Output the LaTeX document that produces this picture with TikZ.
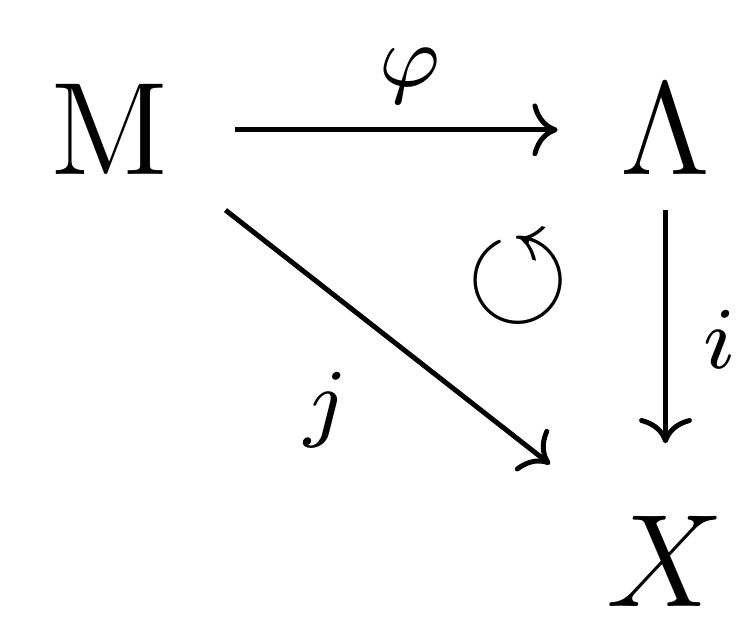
\documentclass[tikz,border=0pt]{standalone}
\usepackage{amssymb}
\usetikzlibrary{arrows.meta}
\begin{document}
\begin{tikzpicture}[x=1pt,y=1pt,lab/.style={inner sep=0pt,font=\fontsize{11.5pt}{14pt}\selectfont},
  sml/.style={inner sep=0pt,font=\fontsize{8.2pt}{10pt}\selectfont},
  arr/.style={line width=0.45pt,-{Computer Modern Rightarrow[length=2.3pt,width=4.8pt]}}]
\useasboundingbox (0,0) rectangle (68.55,-56.55);
\node[lab] (M) at (10,-11.8) {$\mathrm{M}$};
\node[lab] (L) at (60.5,-11.8) {$\Lambda$};
\node[lab] (X) at (60.5,-51) {$X$};
\coordinate (a1) at (21.4,-11.8);
\coordinate (a2) at (50.7,-11.8);
\coordinate (b1) at (60.5,-19.1);
\coordinate (b2) at (60.5,-40.3);
\coordinate (c1) at (20.5,-19.1);
\coordinate (c2) at (50,-42.2);
\draw[arr] (a1) -- (a2);
\draw[arr] (b1) -- (b2);
\draw[arr] (c1) -- (c2);
\node[sml] (phi) at (37.3,-6.9) {$\varphi$};
\node[sml] (ii) at (65.4,-30.9) {$i$};
\node[sml] (jj) at (29.6,-37.3) {$j$};
\node[lab,scale=1.05] (rot) at (47.1,-25.5) {$\circlearrowleft$};
\end{tikzpicture}
\end{document}
